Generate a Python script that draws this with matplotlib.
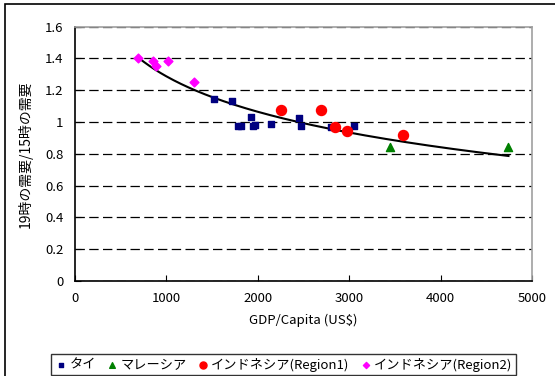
import matplotlib.pyplot as plt
import numpy as np
from matplotlib.patches import Rectangle

plt.rcParams['font.family'] = ['Noto Sans CJK JP', 'DejaVu Sans']

# タイ
thai_x = [1519, 1722, 1790, 1815, 1927, 1950, 1975, 2142, 2451, 2473, 2798, 3056]
thai_y = [1.145, 1.13, 0.973, 0.973, 1.033, 0.973, 0.978, 0.99, 1.027, 0.977, 0.97, 0.977]
# マレーシア
my_x = [3446, 4743]
my_y = [0.841, 0.841]
# インドネシア(Region1)
id1_x = [2258, 2689, 2848, 2973, 3588]
id1_y = [1.074, 1.074, 0.97, 0.943, 0.918]
# インドネシア(Region2)
id2_x = [695, 856, 892, 1023, 1307]
id2_y = [1.40, 1.385, 1.35, 1.385, 1.25]

W, H = 555, 376
fig = plt.figure(figsize=(W / 100, H / 100), dpi=100)
ax = fig.add_axes([74.7 / W, 1 - 281 / H, (532 - 74.7) / W, (281 - 26.5) / H])

# chart area border
fig.patches.append(Rectangle((5 / W, -0.05), 1.1, 1 - 4 / H + 0.05, transform=fig.transFigure,
                             fill=False, edgecolor='black', linewidth=1.2))

ax.scatter(thai_x, thai_y, marker='s', s=24, color='#000080', label='タイ', zorder=3)
ax.scatter(my_x, my_y, marker='^', s=34, color='#008000', label='マレーシア', zorder=3)
ax.scatter(id1_x, id1_y, marker='o', s=52, color='#FF0000', label='インドネシア(Region1)', zorder=3)
ax.scatter(id2_x, id2_y, marker='D', s=20, color='#FF00FF', label='インドネシア(Region2)', zorder=3)

# logarithmic trend line over all points
all_x = np.array(thai_x + my_x + id1_x + id2_x, dtype=float)
all_y = np.array(thai_y + my_y + id1_y + id2_y)
b, a = np.polyfit(np.log(all_x), all_y, 1)
tx = np.linspace(all_x.min(), all_x.max(), 200)
ax.plot(tx, a + b * np.log(tx), color='black', linewidth=1.5, zorder=2)

ax.set_xlim(0, 5000)
ax.set_ylim(0, 1.6)
ax.set_xticks(np.arange(0, 5001, 1000))
ax.set_yticks(np.arange(0, 1.61, 0.2))
ax.set_yticklabels(['0', '0.2', '0.4', '0.6', '0.8', '1', '1.2', '1.4', '1.6'])
ax.tick_params(direction='in', length=4, labelsize=9.5, pad=8)
ax.yaxis.grid(True, linestyle=(0, (7.5, 3.5)), color='black', linewidth=0.9)
ax.set_axisbelow(True)
for s in ['top', 'right']:
    ax.spines[s].set_color('#a0a0a0')
    ax.spines[s].set_linewidth(1.2)
for s in ['left', 'bottom']:
    ax.spines[s].set_color('black')
    ax.spines[s].set_linewidth(1.2)

ax.set_xlabel('GDP/Capita (US$)', fontsize=9.5, labelpad=6)
ax.set_ylabel('19時の需要/15時の需要', fontsize=10, labelpad=9)

leg = fig.legend(loc='lower center', bbox_to_anchor=(283.5 / W, 1 / H), ncol=4, fontsize=9.5,
                 frameon=True, fancybox=False, edgecolor='black', handletextpad=0.15,
                 columnspacing=0.7, borderpad=0.25, markerscale=0.7, handlelength=1.0,
                 borderaxespad=0)
leg.get_frame().set_linewidth(1.0)

plt.savefig('out.png', dpi=100)
